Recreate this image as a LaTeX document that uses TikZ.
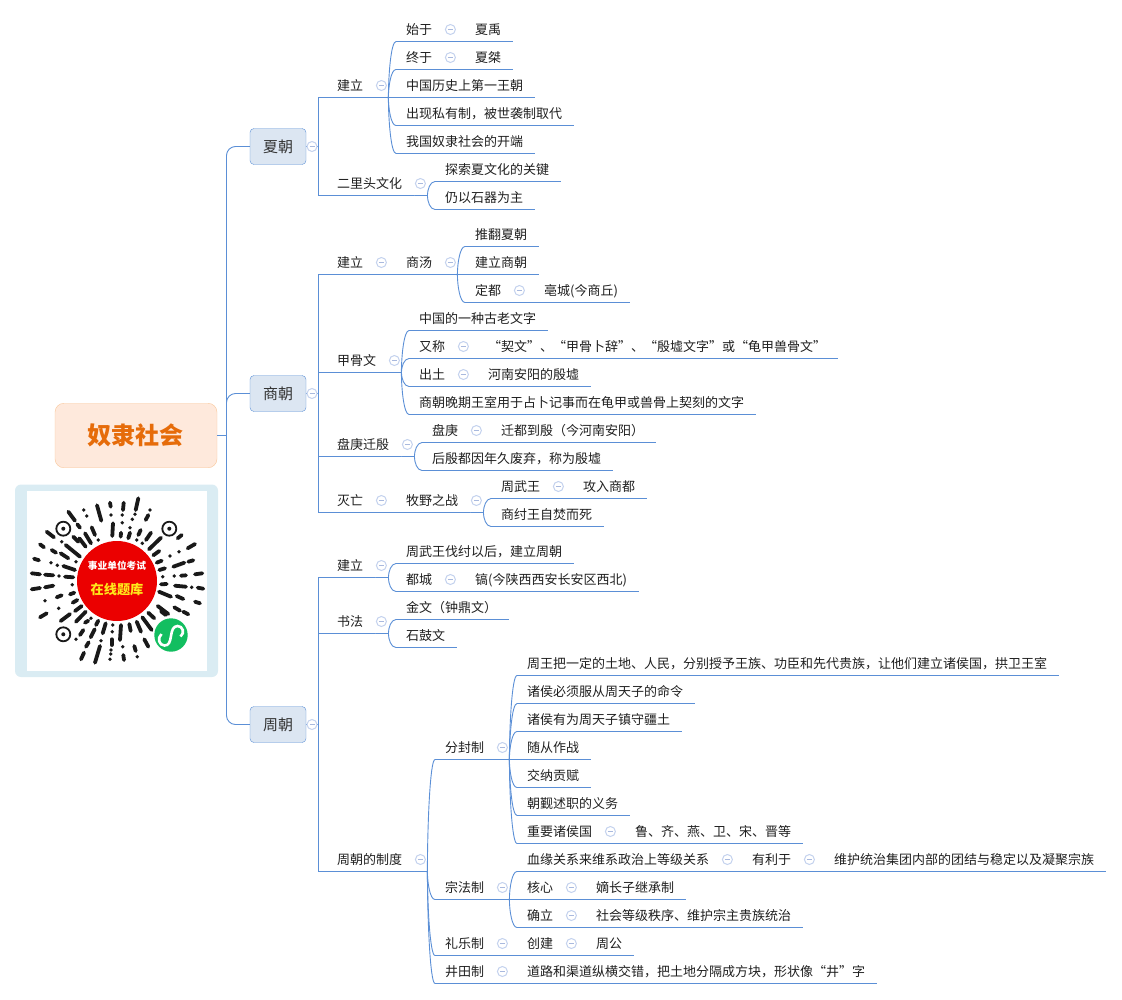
\documentclass[tikz,border=0pt]{standalone}
\usepackage{fontspec}
\setmainfont{Noto Sans CJK SC}
\usetikzlibrary{calc}

\definecolor{linkblue}{HTML}{5B8FD6}
\definecolor{foldblue}{HTML}{C4D2EE}
\definecolor{minusblue}{HTML}{A9B9DE}
\definecolor{topfill}{HTML}{DCE6F2}
\definecolor{rootfill}{HTML}{FEE9DC}
\definecolor{rootline}{HTML}{F9C79B}
\definecolor{rootink}{HTML}{E66C0A}
\definecolor{frameblue}{HTML}{DAECF3}
\definecolor{codered}{HTML}{EB0000}
\definecolor{codegreen}{HTML}{12BE60}
\definecolor{codeyellow}{HTML}{FFE81A}

\tikzset{
    link/.style={draw=linkblue, line width=0.9pt},
    item/.style={anchor=south west, inner xsep=0pt, inner ysep=5.5pt, text height=11.5pt, text depth=1pt,
        font=\fontsize{13}{15}\selectfont, text=black!88,
        execute at begin node={\hspace*{10pt}}, execute at end node={\hspace*{12pt}},
        append after command={(\tikzlastnode.south west) edge[link] (\tikzlastnode.south east)}},
    dynasty/.style={draw=linkblue, fill=topfill, rounded corners=4pt, minimum width=56pt, minimum height=36pt,
        inner sep=0pt, font=\fontsize{15}{17}\selectfont, text=black!80},
    foldmark/.style={circle, draw=foldblue, fill=white, line width=1pt, minimum size=10pt, inner sep=0pt,
        path picture={\draw[minusblue, line width=0.8pt] ($(path picture bounding box.center)+(-2.5,0)$) -- ($(path picture bounding box.center)+(2.5,0)$);}},
    codebar/.style={line width=3.8pt, line cap=round, black!90},
}

% parent's line goes on past its end, then bends to the child's line
\newcommand{\branch}[2]{
    \coordinate (#1_j) at ($(#1.south east)+(13,0)$);
    \draw[link] (#1.south east) -- (#1_j) .. controls ($(#1_j)!0.4!(#1_j |- #2.south west)$) and ($(#2.south west)+(-5,0)$) .. (#2.south west);
}
\newcommand{\fold}[1]{\node[foldmark] (#1_f) at ($(#1.south east)+(6,-12)$) {};}

\begin{document}
\begin{tikzpicture}[x=1pt, y=-1pt]
    \useasboundingbox (0,0) rectangle (1122,999);

    % root
    \node[draw=rootline, fill=rootfill, rounded corners=9pt, minimum width=162pt, minimum height=64.5pt, inner sep=0pt,
        font=\fontsize{24}{28}\selectfont\bfseries, text=rootink] (root) at (136,435.5) {\kern-2pt 奴隶社会};
    \node[dynasty] (xia) at (278,146.5) {夏朝};
    \node[dynasty] (shang) at (278,393.5) {商朝};
    \node[dynasty] (zhou) at (278,724.5) {周朝};
    \coordinate (root_j) at (226.5,435.5);
    \draw[link] (root.east) -- (root_j);
    \draw[link, rounded corners=9pt] (root_j) |- (xia.west);
    \draw[link, rounded corners=9pt] (root_j) |- (shang.west);
    \draw[link, rounded corners=9pt] (root_j) |- (zhou.west);

    % Xia
    \node[item] (xia_a) at (327,97.5) {建立};
    \node[item] (xia_a1) at (396,41.5) {始于};
    \node[item] (xia_a1x) at (465,41.5) {夏禹};
    \node[item] (xia_a2) at (396,69.5) {终于};
    \node[item] (xia_a2x) at (465,69.5) {夏桀};
    \node[item] (xia_a3) at (396,97.5) {中国历史上第一王朝};
    \node[item] (xia_a4) at (396,125.5) {出现私有制，被世袭制取代};
    \node[item] (xia_a5) at (396,153.5) {我国奴隶社会的开端};
    \node[item] (xia_b) at (327,195.5) {二里头文化};
    \node[item] (xia_b1) at (435,181.5) {探索夏文化的关键};
    \node[item] (xia_b2) at (435,209.5) {仍以石器为主};

    \coordinate (xia_j) at (318,146.5);
    \draw[link] (xia.east) -- (xia_j);
    \draw[link] (xia_j) |- (xia_a.south west);
    \draw[link] (xia_j) |- (xia_b.south west);
    \foreach \c in {a1,a2,a3,a4,a5} {\branch{xia_a}{xia_\c}}
    \foreach \c in {b1,b2} {\branch{xia_b}{xia_\c}}
    \foreach \c in {a1,a2} {\draw[link] (xia_\c.south east) -- (xia_\c x.south west);}
    \foreach \c in {a,a1,a2,b} {\fold{xia_\c}}
    \node[foldmark] (xia_f) at (312,146.5) {};

    % Shang
    \node[item] (shang_a) at (327,274.5) {建立};
    \node[item] (shang_a0) at (396,274.5) {商汤};
    \node[item] (shang_a1) at (465,246.5) {推翻夏朝};
    \node[item] (shang_a2) at (465,274.5) {建立商朝};
    \node[item] (shang_a3) at (465,302.5) {定都};
    \node[item] (shang_a3x) at (534,302.5) {亳城(今商丘)};
    \node[item] (shang_b) at (327,372.5) {甲骨文};
    \node[item] (shang_b1) at (409,330.5) {中国的一种古老文字};
    \node[item] (shang_b2) at (409,358.5) {又称};
    \node[item] (shang_b2x) at (478,358.5) {“契文”、“甲骨卜辞”、“殷墟文字”或“龟甲兽骨文”};
    \node[item] (shang_b3) at (409,386.5) {出土};
    \node[item] (shang_b3x) at (478,386.5) {河南安阳的殷墟};
    \node[item] (shang_b4) at (409,414.5) {商朝晚期王室用于占卜记事而在龟甲或兽骨上契刻的文字};
    \node[item] (shang_c) at (327,456.5) {盘庚迁殷};
    \node[item] (shang_c1) at (422,442.5) {盘庚};
    \node[item] (shang_c1x) at (491,442.5) {迁都到殷（今河南安阳）};
    \node[item] (shang_c2) at (422,470.5) {后殷都因年久废弃，称为殷墟};
    \node[item] (shang_d) at (327,512.5) {灭亡};
    \node[item] (shang_d0) at (396,512.5) {牧野之战};
    \node[item] (shang_d1) at (491,498.5) {周武王};
    \node[item] (shang_d1x) at (573,498.5) {攻入商都};
    \node[item] (shang_d2) at (491,526.5) {商纣王自焚而死};

    \coordinate (shang_j) at (318,393.5);
    \draw[link] (shang.east) -- (shang_j);
    \foreach \c in {a,b,c,d} {\draw[link] (shang_j) |- (shang_\c.south west);}
    \draw[link] (shang_a.south east) -- (shang_a0.south west);
    \draw[link] (shang_d.south east) -- (shang_d0.south west);
    \foreach \c in {a1,a2,a3} {\branch{shang_a0}{shang_\c}}
    \foreach \c in {b1,b2,b3,b4} {\branch{shang_b}{shang_\c}}
    \foreach \c in {c1,c2} {\branch{shang_c}{shang_\c}}
    \foreach \c in {d1,d2} {\branch{shang_d0}{shang_\c}}
    \foreach \c in {a3,b2,b3,c1,d1} {\draw[link] (shang_\c.south east) -- (shang_\c x.south west);}
    \foreach \c in {a,a0,a3,b,b2,b3,c,c1,d,d0,d1} {\fold{shang_\c}}
    \node[foldmark] (shang_f) at (312,393.5) {};

    % Zhou
    \node[item] (zhou_a) at (327,577.5) {建立};
    \node[item] (zhou_a1) at (396,563.5) {周武王伐纣以后，建立周朝};
    \node[item] (zhou_a2) at (396,591.5) {都城};
    \node[item] (zhou_a2x) at (465,591.5) {镐(今陕西西安长安区西北)};
    \node[item] (zhou_b) at (327,633.5) {书法};
    \node[item] (zhou_b1) at (396,619.5) {金文（钟鼎文）};
    \node[item] (zhou_b2) at (396,647.5) {石鼓文};
    \node[item] (zhou_c) at (327,871.5) {周朝的制度};
    \node[item] (zhou_d) at (435,759.5) {分封制};
    \node[item] (zhou_d1) at (517,675.5) {周王把一定的土地、人民，分别授予王族、功臣和先代贵族，让他们建立诸侯国，拱卫王室};
    \node[item] (zhou_d2) at (517,703.5) {诸侯必须服从周天子的命令};
    \node[item] (zhou_d3) at (517,731.5) {诸侯有为周天子镇守疆土};
    \node[item] (zhou_d4) at (517,759.5) {随从作战};
    \node[item] (zhou_d5) at (517,787.5) {交纳贡赋};
    \node[item] (zhou_d6) at (517,815.5) {朝觐述职的义务};
    \node[item] (zhou_d7) at (517,843.5) {重要诸侯国};
    \node[item] (zhou_d7x) at (625,843.5) {鲁、齐、燕、卫、宋、晋等};
    \node[item] (zhou_e) at (435,899.5) {宗法制};
    \node[item] (zhou_e1) at (517,871.5) {血缘关系来维系政治上等级关系};
    \node[item] (zhou_e1x) at (742,871.5) {有利于};
    \node[item] (zhou_e1y) at (824,871.5) {维护统治集团内部的团结与稳定以及凝聚宗族};
    \node[item] (zhou_e2) at (517,899.5) {核心};
    \node[item] (zhou_e2x) at (586,899.5) {嫡长子继承制};
    \node[item] (zhou_e3) at (517,927.5) {确立};
    \node[item] (zhou_e3x) at (586,927.5) {社会等级秩序、维护宗主贵族统治};
    \node[item] (zhou_g) at (435,955.5) {礼乐制};
    \node[item] (zhou_g1) at (517,955.5) {创建};
    \node[item] (zhou_g1x) at (586,955.5) {周公};
    \node[item] (zhou_h) at (435,983.5) {井田制};
    \node[item] (zhou_h1) at (517,983.5) {道路和渠道纵横交错，把土地分隔成方块，形状像“井”字};

    \coordinate (zhou_j) at (318,724.5);
    \draw[link] (zhou.east) -- (zhou_j);
    \foreach \c in {a,b,c} {\draw[link] (zhou_j) |- (zhou_\c.south west);}
    \foreach \c in {a1,a2} {\branch{zhou_a}{zhou_\c}}
    \foreach \c in {b1,b2} {\branch{zhou_b}{zhou_\c}}
    \foreach \c in {d,e,g,h} {\branch{zhou_c}{zhou_\c}}
    \foreach \c in {d1,d2,d3,d4,d5,d6,d7} {\branch{zhou_d}{zhou_\c}}
    \foreach \c in {e1,e2,e3} {\branch{zhou_e}{zhou_\c}}
    \draw[link] (zhou_g.south east) -- (zhou_g1.south west);
    \draw[link] (zhou_h.south east) -- (zhou_h1.south west);
    \foreach \c in {a2,d7,e1,e2,e3,g1} {\draw[link] (zhou_\c.south east) -- (zhou_\c x.south west);}
    \draw[link] (zhou_e1x.south east) -- (zhou_e1y.south west);
    \foreach \c in {a,a2,b,c,d,d7,e,e1,e1x,e2,e3,g,g1,h} {\fold{zhou_\c}}
    \node[foldmark] (zhou_f) at (312,724.5) {};

    % mini program code
    \fill[frameblue, rounded corners=6pt] (15,484.5) rectangle (218,677);
    \fill[white] (27,491) rectangle (207,671);
    \foreach \xa/\ya/\xb/\yb in {97/505.3/101.3/520.7, 110/502.7/110.7/506.7, 68.3/511.7/75/520.7, 113/523.3/112.3/536,
        77.3/524.3/80/527.7, 91.7/527.3/95/535, 85/533.3/91/543.3, 46.7/531.7/54/537.3, 73.3/536.7/78.3/541.7,
        79.3/538.3/85.7/546.7, 65.7/545/80/556.7, 40/544.3/44/547.3, 51.7/550/56/552.7, 60.7/553.3/68.3/558.3,
        34/558.7/39/560.3, 63.3/566/75/570, 31.7/573.3/40/574.3, 45/574.7/53.3/575.3, 65/576.7/73.3/577.3,
        138.3/498.3/135.7/510, 123.7/502.7/123/510, 148.3/515/145.7/520, 140.7/530/138.3/535, 130/532.7/128.3/538.3,
        121/532.7/120.7/536.7, 151/532.7/146/540, 161/537.7/149/549.3, 181.7/535/177.7/538.3, 195/544/187.7/548.3,
        159.3/551/153.3/555.3, 161.7/560.7/156.7/562.7, 184.3/562.7/173.3/566.7, 193.3/560.3/188.3/561.7,
        165/568.3/159.3/570, 202.3/573.3/195/574.3, 186/575.3/181/575.7, 166.7/584/161/584.3,
        31.7/589.3/40/588, 45/587.3/53.3/585.7, 70/594.3/74.3/592.7, 56.7/597.3/61.7/595.3, 72.7/602.7/77.3/600,
        75/611/81.7/606, 40/617.3/46.7/613.3, 60.7/621/70/614, 76/621.7/85.7/611.7, 80/635/83.3/630,
        85/622.7/88.3/620.7, 96/625/98.3/620.7, 90.7/637.3/94.7/629.3, 102.7/633.3/105.7/623.3, 111.7/639.3/111.7/645,
        86/646.7/88.7/642.3, 81/659.3/84/652.7, 95/662.7/100/646,
        121/625/120/640, 129.3/624/130.7/631, 136.7/621.7/141/631.7, 142.3/617.3/151.7/630, 148.3/612.7/154.3/618.3,
        157.7/606/168.3/614, 161/611.3/165.7/615, 159/591.7/171/596.7, 174.3/607.3/180/610.7, 183.3/611.7/188.3/614.3,
        176.7/596/183.3/599, 195/601.7/200/603.3, 175/585.7/186/586.7, 197.7/587.7/203.3/588.7, 144.3/639.3/148.3/646.7,
        134.3/646/135.7/651, 123.3/655/124/660}
        {\draw[codebar] (\xa,\ya) -- (\xb,\yb);}
    \foreach \xa/\ya in {83.7/510, 86.7/516, 111/515, 98.3/540, 61.7/541.7, 51/562.7, 57.3/565.3, 59/576, 76/561.7,
        150/510, 135/514.3, 122.3/515, 132.3/519.3, 122.3/522.7, 130/527.7, 136.7/540, 142.3/543.3, 179/551.7, 170/556,
        162.7/576.7, 174.3/576, 72.3/584.7, 45/600.7, 58.7/608.3, 91/618.3, 76/639.3, 101/640.7, 112.7/625, 112.3/631.7,
        111/650, 110.7/654, 110/659.3, 191.7/587.3, 122.7/646.7, 137.3/656.7}
        {\fill[black!90] (\xa,\ya) circle (1.9);}
    \foreach \xa/\ya in {63.3/528.7, 169.3/528.7, 63.3/634.3} {
        \draw[black!90, line width=1.8pt] (\xa,\ya) circle (7);
        \fill[black!90] (\xa,\ya) circle (2);
    }
    \fill[codered] (117,581) circle (40);
    \node[inner sep=0pt, font=\fontsize{9.7}{11}\selectfont\bfseries, text=white] (code_t1) at (117,566) {事业单位考试};
    \node[inner sep=0pt, font=\fontsize{13.2}{15}\selectfont\bfseries, text=codeyellow] (code_t2) at (117,589) {在线题库};
    \fill[codegreen] (171,635) circle (16.7);
    \draw[white, line width=2.6pt] (161.5,634) .. controls (157,638) and (159,645.5) .. (164.5,645.5) .. controls (169,645.5) and (170,642) .. (171,636)
        .. controls (172,630) and (173,626.5) .. (177.5,626) .. controls (183,626) and (185,633) .. (180.5,636.5);
\end{tikzpicture}
\end{document}
